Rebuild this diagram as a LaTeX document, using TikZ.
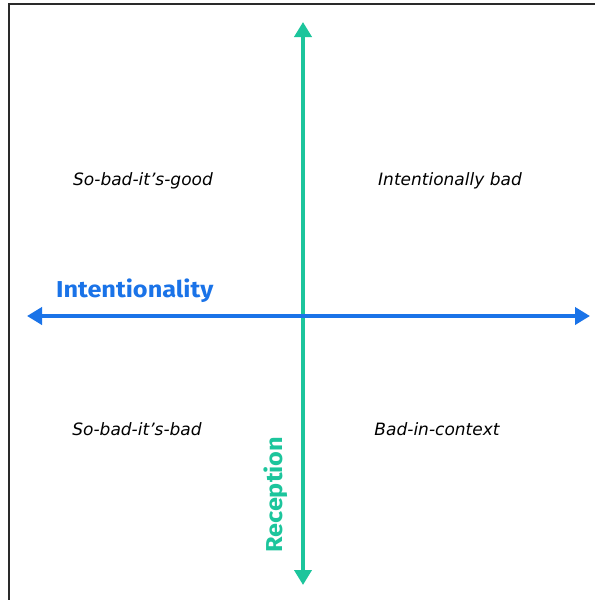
\documentclass[tikz,border=0pt]{standalone}
\usepackage{fontspec}
\setmainfont{DejaVu Sans}
\newfontfamily\labelfont[FakeStretch=1.1]{Fira Sans}
\usetikzlibrary{arrows.meta}
\definecolor{axisblue}{HTML}{1A73E8}
\definecolor{axisteal}{HTML}{1CC59C}
\definecolor{framegray}{HTML}{2A2A2A}
\begin{document}
\begin{tikzpicture}[x=1pt,y=-1pt,
  axis/.style={line width=4.6pt,
    {Triangle[length=15pt,width=17pt]}-{Triangle[length=15pt,width=17pt]}},
  quadrant/.style={font=\itshape\fontsize{17}{20}\selectfont, inner sep=0pt},
  axislabel/.style={font=\labelfont\bfseries\fontsize{23}{26}\selectfont, inner sep=0pt}]
  \useasboundingbox (0,0) rectangle (595,600);
  \fill[white] (0,0) rectangle (595,600);
  % frame on the left and top edges
  \draw[framegray, line width=2pt] (9,600) -- (9,4) -- (595,4);

  % axes
  \coordinate (hl) at (27,316);
  \coordinate (hr) at (590,316);
  \coordinate (vt) at (303,22);
  \coordinate (vb) at (303,585);
  \draw[axis, axisteal] (vt) -- (vb);
  \draw[axis, axisblue] (hl) -- (hr);

  % axis labels
  \node[axislabel, text=axisblue, anchor=base west] (intent) at (56,297) {Intentionality};
  \node[axislabel, text=axisteal, anchor=base west, rotate=90] (recep) at (282,553) {Reception};

  % quadrant names
  \node[quadrant] (q1) at (143,181) {So-bad-it's-good};
  \node[quadrant] (q2) at (450,181) {Intentionally bad};
  \node[quadrant] (q3) at (137,429) {So-bad-it's-bad};
  \node[quadrant] (q4) at (437,429) {Bad-in-context};
\end{tikzpicture}
\end{document}
